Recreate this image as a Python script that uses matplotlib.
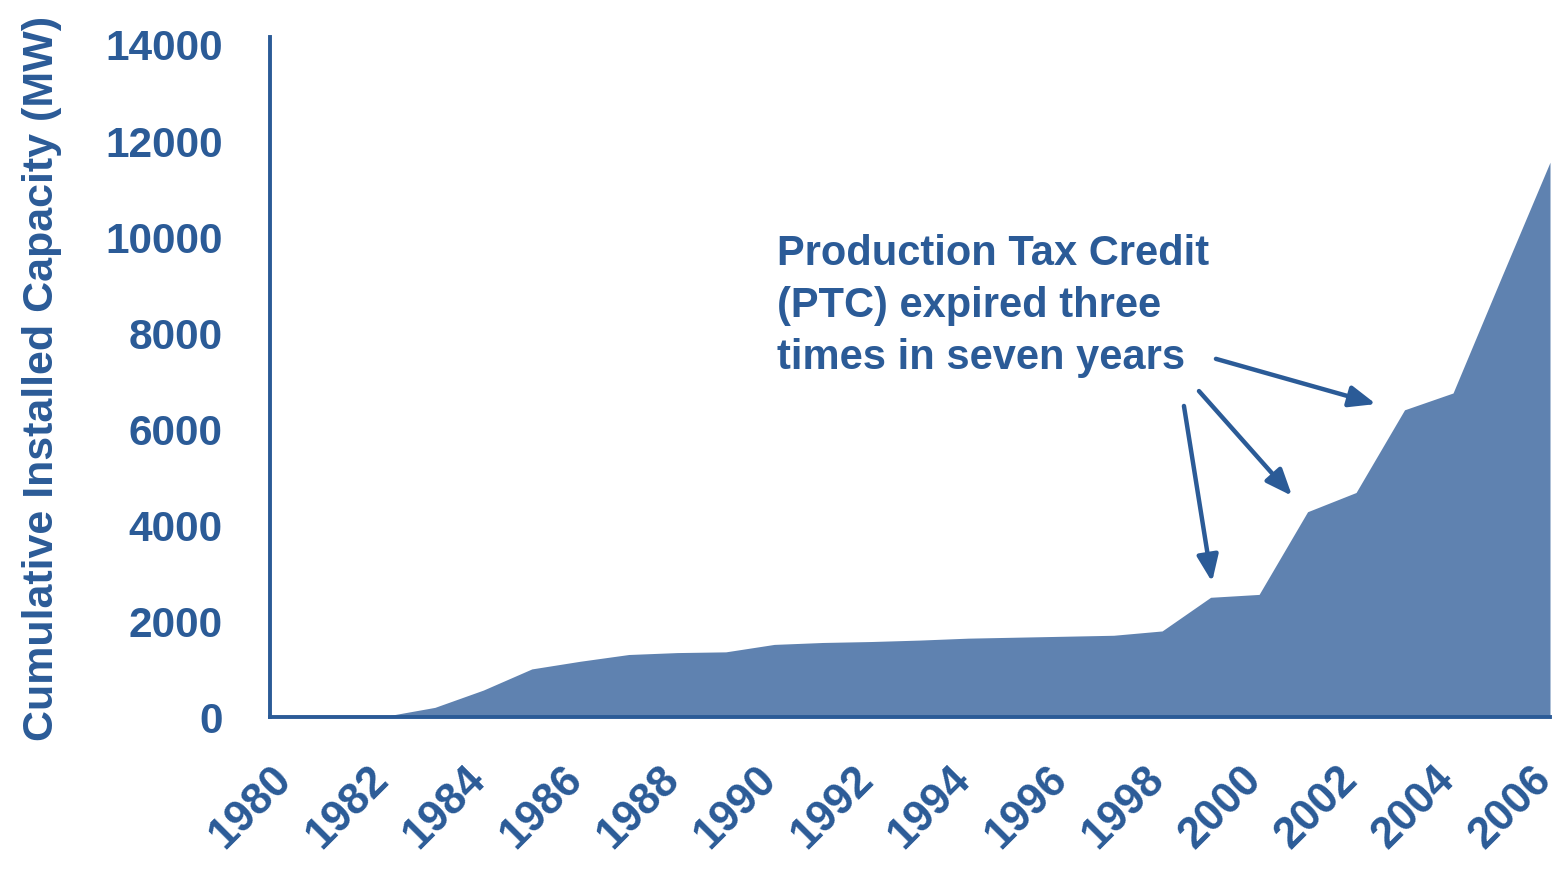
import matplotlib
matplotlib.use("Agg")
import matplotlib.pyplot as plt
import matplotlib.transforms as mtransforms

years = list(range(1980, 2007))
capacity = [0, 5, 20, 200, 560, 1000, 1160, 1300, 1340, 1355, 1510, 1550, 1570,
            1600, 1640, 1660, 1680, 1700, 1790, 2490, 2550, 4270, 4670, 6390,
            6740, 9150, 11540]
ytick_values = [0, 2000, 4000, 6000, 8000, 10000, 12000, 14000]
xtick_values = list(range(1980, 2007, 2))
annotation_text = "Production Tax Credit\n(PTC) expired three\ntimes in seven years"
ylabel_text = "Cumulative Installed Capacity (MW)"

dark = "#2b5b97"
fill_col = "#5f82b0"

plt.rcParams['font.family'] = ['Liberation Sans', 'DejaVu Sans']
plt.rcParams['font.weight'] = 'bold'

fig = plt.figure(figsize=(15.67, 8.70), dpi=100)
ax = fig.add_axes([270/1567, 1-718/870, 1280/1567, 680/870])

ax.fill_between(years, capacity, 0, color=fill_col, linewidth=0)

ax.set_xlim(1979.6, 2006)
ax.set_ylim(0, 14145)

for s in ['top', 'right']:
    ax.spines[s].set_visible(False)
for s in ['left', 'bottom']:
    ax.spines[s].set_color(dark)
    ax.spines[s].set_linewidth(2.8)

ax.set_yticks(ytick_values)
ax.set_yticklabels([str(v) for v in ytick_values], fontweight='bold')
ax.set_xticks(xtick_values)
ax.set_xticklabels([str(v) for v in xtick_values], rotation=45, ha='right',
                   va='top', fontweight='bold')
ax.tick_params(axis='y', length=0, pad=34, labelsize=30.5, labelcolor=dark)
ax.tick_params(axis='x', length=0, pad=29, labelsize=31.5, labelcolor=dark)
offset = mtransforms.ScaledTranslation(0.10, 0, fig.dpi_scale_trans)
for lab in ax.get_xticklabels():
    lab.set_transform(lab.get_transform() + offset)

ax.set_ylabel(ylabel_text, fontsize=31, color=dark, fontweight='bold')
ax.yaxis.set_label_coords(-0.1625, 0.5)

ax.text(1990.06, 10060, annotation_text, fontsize=30, color=dark,
        ha='left', va='top', linespacing=1.38, fontweight='bold')

arrows = [((1998.45, 6470), (1999.03, 2810)),
          ((1998.76, 6780), (2000.68, 4600)),
          ((1999.11, 7450), (2002.41, 6510))]
for start, end in arrows:
    ax.annotate("", xy=end, xytext=start,
                arrowprops=dict(arrowstyle="-|>,head_length=1.6,head_width=0.65",
                                color=dark, lw=3.2, shrinkA=0, shrinkB=0))

fig.savefig("out.png", dpi=100)
